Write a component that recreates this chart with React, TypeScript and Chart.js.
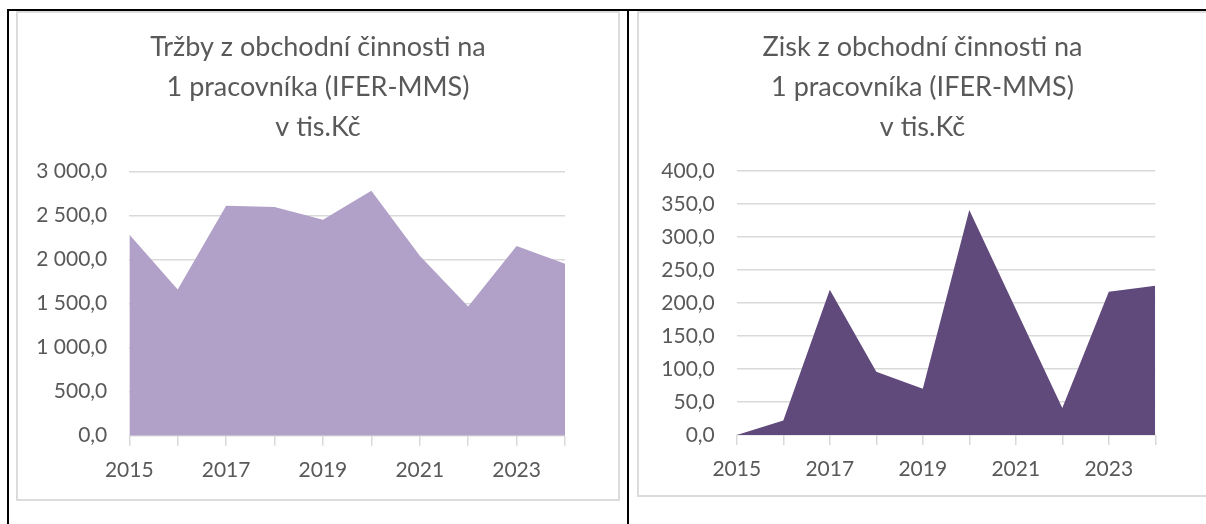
import React, { useEffect, useRef } from "react";
import { Chart, registerables } from "chart.js";

Chart.register(...registerables);

const years = ["2015", "2016", "2017", "2018", "2019", "2020", "2021", "2022", "2023", "2024"];
const trzby = [2285, 1660, 2612, 2600, 2453, 2784, 2045, 1467, 2157, 1955];
const zisk = [0, 22, 220, 96, 70, 341, 191, 41, 217, 226];
const trzbyTitle = ["Tržby z obchodní činnosti na", "1 pracovníka (IFER-MMS)", "v tis.Kč"];
const ziskTitle = ["Zisk z obchodní činnosti na", "1 pracovníka (IFER-MMS)", "v tis.Kč"];
const trzbyAxis = { max: 3000, step: 500 };
const ziskAxis = { max: 400, step: 50 };

const TEXT = "#595959";
const GRID = "#d9d9d9";
const FONT = "Lato";

function fmt(v: number): string {
  const [i, d] = Math.abs(v).toFixed(1).split(".");
  const ig = i.replace(/\B(?=(\d{3})+(?!\d))/g, " ");
  return (v < 0 ? "-" : "") + ig + "," + d;
}

type Props = {
  values: number[];
  title: string[];
  color: string;
  max: number;
  step: number;
  left: number;
  top: number;
  w: number;
  h: number;
  yW: number;
  rightW: number;
  xH: number;
  titlePadBottom: number;
};

function AreaChart(p: Props) {
  const ref = useRef<HTMLCanvasElement>(null);
  useEffect(() => {
    const chart = new Chart(ref.current as HTMLCanvasElement, {
      type: "line",
      data: {
        labels: years,
        datasets: [
          {
            data: p.values,
            backgroundColor: p.color,
            borderColor: p.color,
            borderWidth: 0,
            pointRadius: 0,
            fill: "origin",
            tension: 0,
          },
        ],
      },
      options: {
        responsive: false,
        animation: false,
        devicePixelRatio: 1,
        layout: { padding: { top: 14, left: 0, right: 0, bottom: 0 } },
        plugins: {
          legend: { display: false },
          tooltip: { enabled: false },
          title: {
            display: true,
            text: p.title,
            color: TEXT,
            font: { family: FONT, size: 27, weight: "normal", lineHeight: 40 / 27 },
            padding: { top: 0, bottom: p.titlePadBottom },
          },
        },
        scales: {
          x: {
            type: "category",
            offset: false,
            grid: {
              drawOnChartArea: false,
              drawTicks: true,
              tickLength: 10,
              color: GRID,
              lineWidth: 1.5,
            },
            border: { display: false },
            ticks: {
              autoSkip: false,
              maxRotation: 0,
              minRotation: 0,
              padding: 12,
              color: TEXT,
              font: { family: FONT, size: 21 },
              callback: (_v: any, i: number) => (i % 2 === 0 ? years[i] : ""),
            },
            afterFit: (s: any) => {
              s.height = p.xH;
            },
          },
          y: {
            min: 0,
            max: p.max,
            ticks: {
              stepSize: p.step,
              padding: 22,
              color: TEXT,
              font: { family: FONT, size: 21 },
              callback: (v: any) => fmt(Number(v)),
            },
            grid: { drawTicks: false, color: GRID, lineWidth: 1.5 },
            border: { display: false },
            afterFit: (s: any) => {
              s.width = p.yW;
            },
          },
          y2: {
            position: "right",
            display: true,
            grid: { display: false },
            ticks: { display: false },
            border: { display: false },
            afterFit: (s: any) => {
              s.width = p.rightW;
            },
          },
        },
      } as any,
    });
    return () => chart.destroy();
  }, []);
  return (
    <canvas
      ref={ref}
      width={p.w}
      height={p.h}
      style={{ position: "absolute", left: p.left, top: p.top, width: p.w, height: p.h }}
    />
  );
}

export default function App() {
  return (
    <div
      style={{
        position: "absolute",
        left: 0,
        top: 0,
        width: 1206,
        height: 524,
        overflow: "hidden",
        background: "#fff",
      }}
    >
      {/* table borders */}
      <div style={{ position: "absolute", left: 7, top: 9, width: 1199, height: 2, background: "#000" }} />
      <div style={{ position: "absolute", left: 7, top: 9, width: 2, height: 515, background: "#000" }} />
      <div style={{ position: "absolute", left: 627, top: 9, width: 2, height: 515, background: "#000" }} />
      {/* chart frames */}
      <div
        style={{
          position: "absolute",
          left: 16,
          top: 11,
          width: 604,
          height: 490,
          boxSizing: "border-box",
          border: "2px solid #dcdcdc",
        }}
      />
      <div
        style={{
          position: "absolute",
          left: 637,
          top: 11,
          width: 600,
          height: 486,
          boxSizing: "border-box",
          border: "2px solid #dcdcdc",
        }}
      />
      <AreaChart
        values={trzby}
        title={trzbyTitle}
        color="#b1a0c7"
        max={trzbyAxis.max}
        step={trzbyAxis.step}
        left={18}
        top={13}
        w={600}
        h={486}
        yW={111.3}
        rightW={53}
        xH={63.3}
        titlePadBottom={24.7}
      />
      <AreaChart
        values={zisk}
        title={ziskTitle}
        color="#604a7b"
        max={ziskAxis.max}
        step={ziskAxis.step}
        left={639}
        top={13}
        w={567}
        h={482}
        yW={97.8}
        rightW={50.7}
        xH={60}
        titlePadBottom={24}
      />
    </div>
  );
}
